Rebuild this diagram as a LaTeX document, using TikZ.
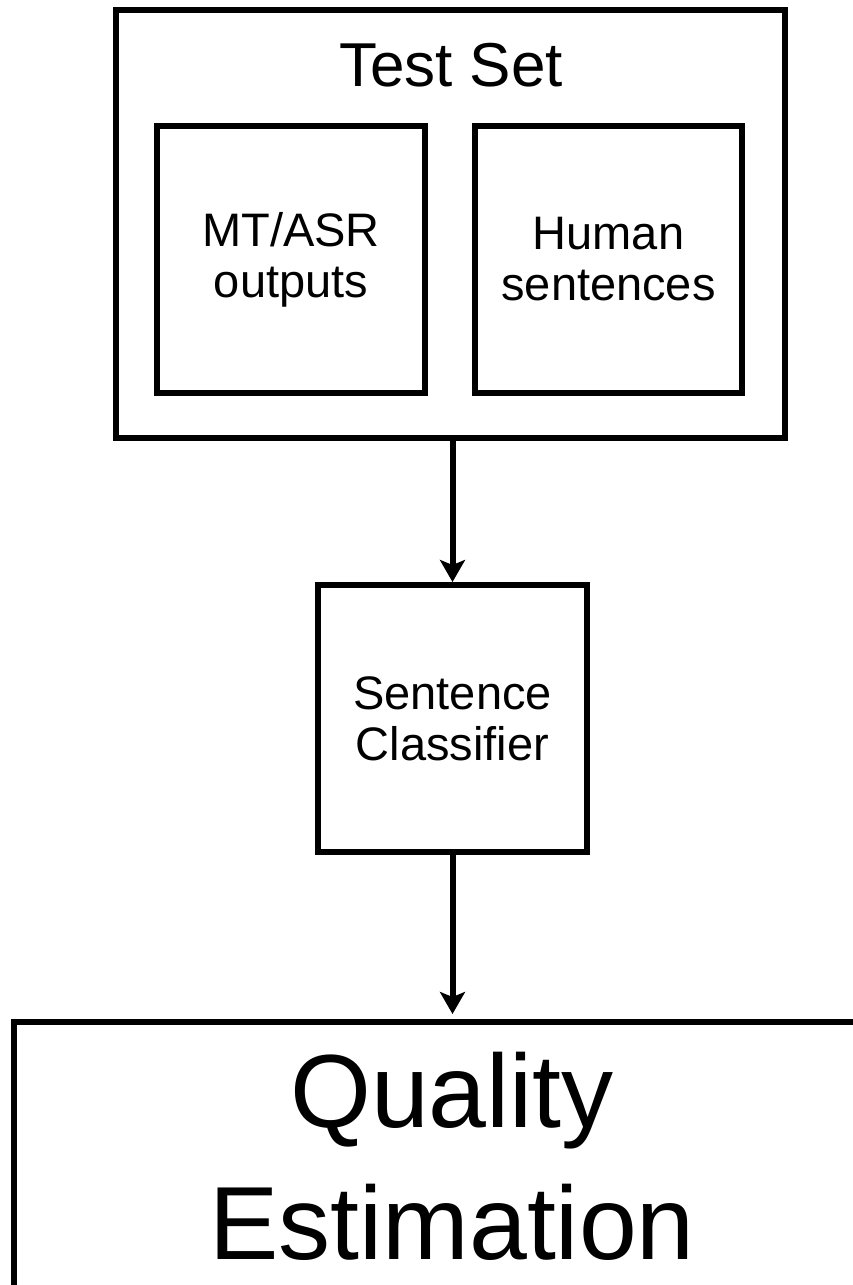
\documentclass[tikz,border=0pt]{standalone}
\usepackage{fontspec}
\setmainfont{Liberation Sans}
\usetikzlibrary{arrows.meta}

\begin{document}
\begin{tikzpicture}[>={Stealth[length=22pt,width=25pt,inset=5pt]},x=1pt,y=-1pt,
	box/.style={draw,line width=6pt,inner sep=0pt,align=center},
	boxfont/.style={font=\fontsize{47}{51}\selectfont}]
			\useasboundingbox (0,0) rectangle (853,1285);
			\node[box,minimum width=669pt,minimum height=428pt] (testset) at (450.5,224) {};
			\node[font=\fontsize{62}{70}\selectfont] (title) at (451,65) {Test Set};
			\node[box,boxfont,minimum width=268pt,minimum height=267pt] (mtasr) at (291,259.5) {MT/ASR\\outputs};
			\node[box,boxfont,minimum width=267pt,minimum height=267pt] (human) at (608.5,259.5) {Human\\sentences};
			\node[box,boxfont,minimum width=269pt,minimum height=267pt] (classifier) at (452.5,718.5) {Sentence\\Classifier};
			\node[box,minimum width=876pt,minimum height=268pt,font=\fontsize{104}{132}\selectfont] (qe) at (452,1156) {Quality\\Estimation};
			
			\draw[->,line width=6pt] (testset.south -| classifier.north) -- (classifier.north);
			\draw[->,line width=6pt,shorten >=5pt] (classifier.south) -- (qe.north -| classifier.south);
	\end{tikzpicture}
\end{document}
